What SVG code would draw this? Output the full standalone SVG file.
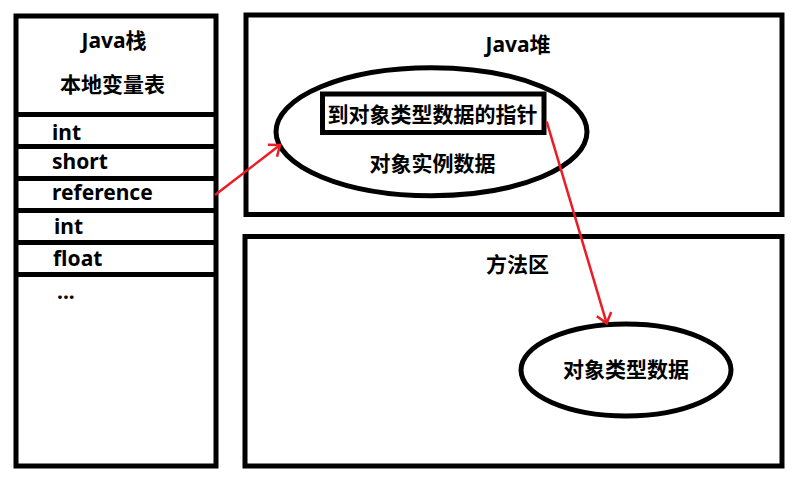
<svg xmlns="http://www.w3.org/2000/svg" width="801" height="487" viewBox="0 0 801 487">
<style>
.box{fill:none;stroke:#000;stroke-width:5}
.t{font-family:"Noto Sans","Noto Sans CJK SC",sans-serif;font-weight:bold;font-size:21px;fill:#000}
.c{text-anchor:middle}
.arr{stroke:#ed1c24;stroke-width:2.5;fill:none;marker-end:url(#ah)}
</style>
<defs>
<marker id="ah" markerUnits="userSpaceOnUse" viewBox="-14 -10 16 20" markerWidth="16" markerHeight="20" refX="0" refY="0" orient="auto">
<path d="M-9.5,-7.5 L0,0 L-9.5,7.5" fill="none" stroke="#ed1c24" stroke-width="2.5"/>
</marker>
</defs>
<rect width="801" height="487" fill="#fff"/>
<g id="java-stack">
<rect class="box" x="16" y="16" width="200" height="450"/>
<path class="box" d="M16,114.5H216M16,146.5H216M16,178.5H216M16,210.5H216M16,242.5H216M16,274.5H216"/>
<text class="t c" x="114" y="48">Java栈</text>
<text class="t c" x="112.5" y="91.5">本地变量表</text>
<text class="t" x="52" y="140">int</text>
<text class="t" x="52" y="169">short</text>
<text class="t" x="52" y="200">reference</text>
<text class="t" x="54" y="234">int</text>
<text class="t" x="53" y="265.5">float</text>
<text class="t" x="57" y="299">...</text>
</g>
<g id="java-heap">
<rect class="box" x="246" y="15" width="536" height="199.5"/>
<text class="t c" x="518" y="52">Java堆</text>
</g>
<g id="object-instance">
<ellipse class="box" cx="431.5" cy="131.7" rx="155.5" ry="64"/>
<text class="t c" x="432.5" y="170.5">对象实例数据</text>
</g>
<g id="type-pointer">
<rect class="box" x="322.5" y="94" width="221.5" height="38.5" fill="#fff"/>
<text class="t c" x="432.5" y="122">到对象类型数据的指针</text>
</g>
<g id="method-area">
<rect class="box" x="245" y="236.5" width="537" height="229.5"/>
<text class="t c" x="517.5" y="272">方法区</text>
</g>
<g id="object-type">
<ellipse class="box" cx="626" cy="370" rx="105" ry="46"/>
<text class="t c" x="626" y="377">对象类型数据</text>
</g>
<g id="connectors">
<line class="arr" x1="215" y1="195" x2="280" y2="145"/>
<line class="arr" x1="546.7" y1="121.7" x2="606.7" y2="323.3"/>
</g>
</svg>
